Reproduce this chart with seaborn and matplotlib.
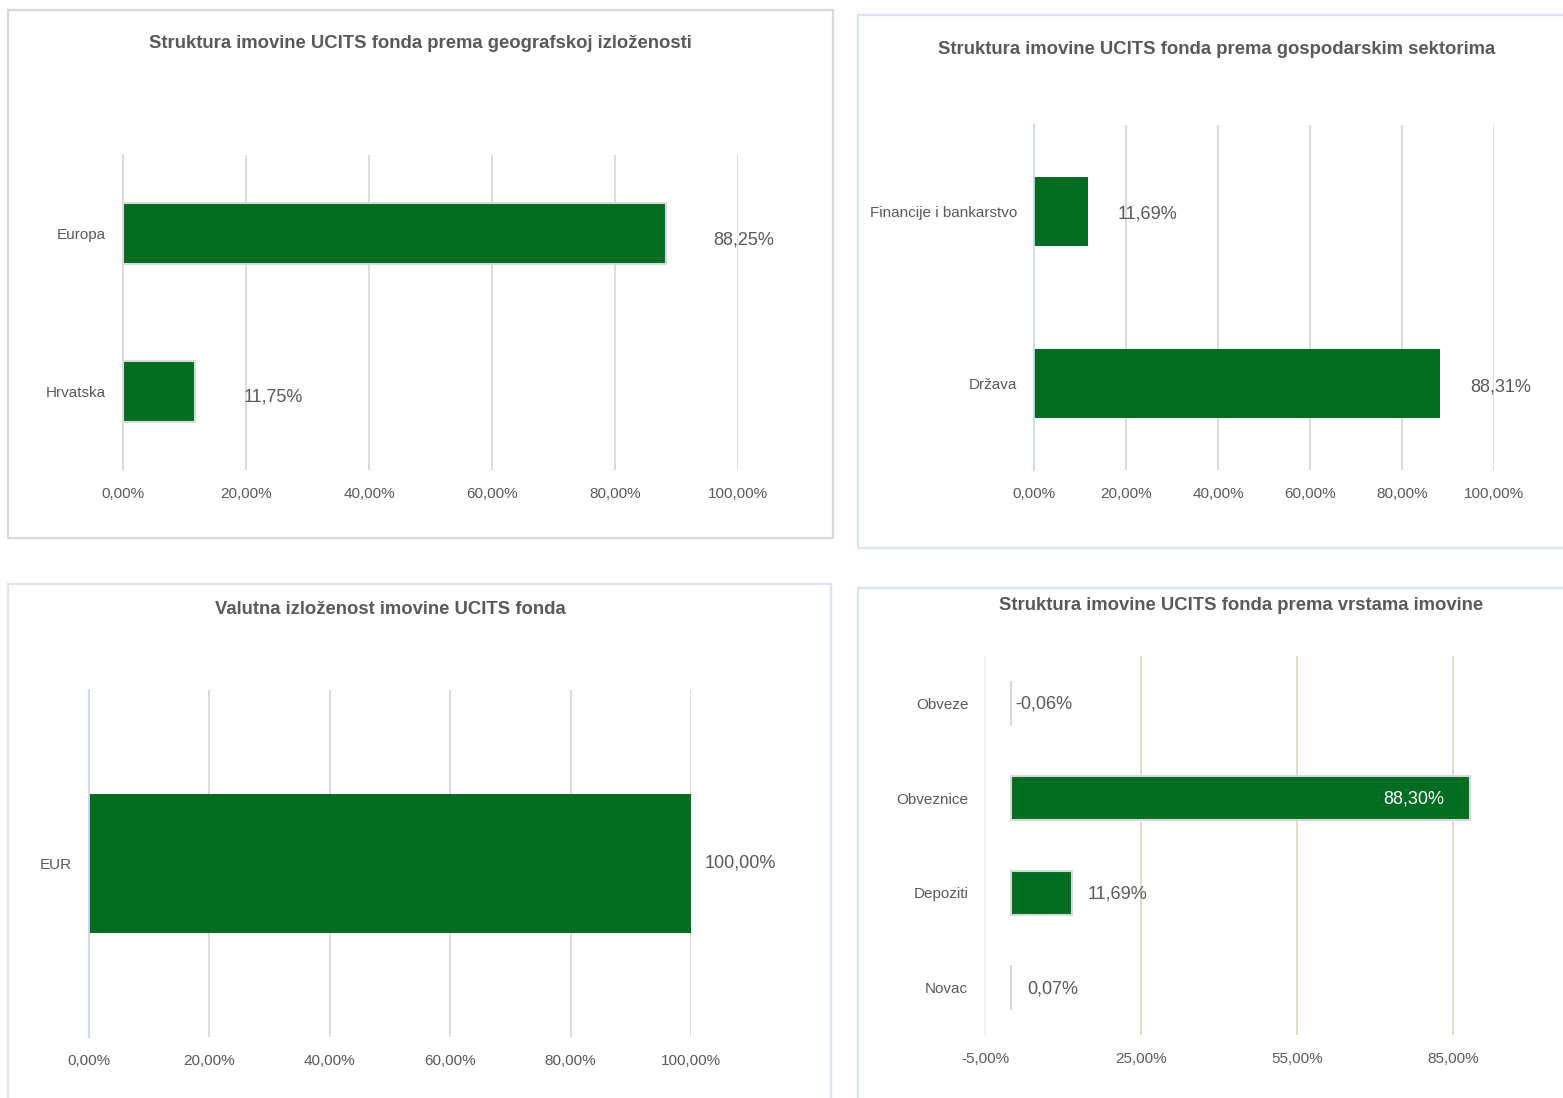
import matplotlib
matplotlib.use("Agg")
import matplotlib.pyplot as plt
import matplotlib.patches as patches
from matplotlib.ticker import FuncFormatter
import seaborn as sns

W, H = 1563, 1098

geo_labels = ["Europa", "Hrvatska"]
geo_values = [88.25, 11.75]

sector_labels = ["Financije i bankarstvo", "Država"]
sector_values = [11.69, 88.31]

currency_labels = ["EUR"]
currency_values = [100.00]

asset_labels = ["Obveze", "Obveznice", "Depoziti", "Novac"]
asset_values = [-0.06, 88.30, 11.69, 0.07]

GREEN = "#006D23"
TEXT = "#595959"

sns.set_theme(style="white")
plt.rcParams["font.family"] = ["Liberation Sans Narrow", "Liberation Sans", "DejaVu Sans"]

fig = plt.figure(figsize=(W / 100, H / 100), dpi=100)


def px_axes(l, t, r, b):
    return fig.add_axes([l / W, 1 - b / H, (r - l) / W, (b - t) / H])


def frame(x0, y0, x1, y1, color):
    fig.patches.append(patches.Rectangle((x0 / W, 1 - y1 / H), (x1 - x0) / W, (y1 - y0) / H,
                                         transform=fig.transFigure, fill=False,
                                         edgecolor=color, lw=1.6))


def pct(v, _=None):
    return f"{v:.2f}%".replace(".", ",")


def panel(ax, labels, values, ticks, xlim, width, edge, grid_color, zero_color,
          label_off, dy=-3, inside=None, ypad=12, xpad=12):
    sns.barplot(x=values, y=labels, orient="h", color=GREEN, width=width, saturation=1,
                edgecolor=edge, linewidth=1.5 if edge != "none" else 0, ax=ax)
    ax.set_xlim(*xlim)
    ax.set_xticks(ticks)
    ax.xaxis.set_major_formatter(FuncFormatter(pct))
    ax.grid(axis="x", color=grid_color, lw=1.3)
    ax.set_axisbelow(True)
    for s in ["top", "right", "bottom"]:
        ax.spines[s].set_visible(False)
    ax.spines["left"].set_color(zero_color)
    ax.spines["left"].set_linewidth(1.3)
    ax.tick_params(axis="both", length=0, colors=TEXT, labelsize=11)
    ax.tick_params(axis="y", pad=ypad)
    ax.tick_params(axis="x", pad=xpad)
    ax.set_xlabel("")
    ax.set_ylabel("")
    for i, v in enumerate(values):
        if inside is not None and i == inside:
            ax.annotate(pct(v), (v, i), xytext=(-26, dy), textcoords="offset pixels",
                        ha="right", va="center", color="white", fontsize=13)
        else:
            ax.annotate(pct(v), (max(v, 0), i), xytext=(label_off if v > 0 else 4, dy),
                        textcoords="offset pixels", ha="left", va="center",
                        color=TEXT, fontsize=13, annotation_clip=False)


# frames
frame(8, 10, 833, 538, "#d9d9d9")
frame(858, 15, 1575, 548, "#dae3f3")
frame(8, 584, 831, 1110, "#dae3f3")
frame(858, 588, 1575, 1110, "#dae3f3")

# titles
title_kw = dict(ha="center", va="center", fontsize=13.3, fontweight="bold", color=TEXT)
fig.text(420 / W, 1 - 44 / H, "Struktura imovine UCITS fonda prema geografskoj izloženosti", **title_kw)
fig.text(1217 / W, 1 - 49 / H, "Struktura imovine UCITS fonda prema gospodarskim sektorima", **title_kw)
fig.text(390 / W, 1 - 609 / H, "Valutna izloženost imovine UCITS fonda", **title_kw)
fig.text(1241 / W, 1 - 606 / H, "Struktura imovine UCITS fonda prema vrstama imovine", **title_kw)

ax1 = px_axes(123, 155, 738, 470)
panel(ax1, geo_labels, geo_values, [0, 20, 40, 60, 80, 100], (0, 100), 0.39,
      "#d9d9d9", "#d9d9d9", "#d9d9d9", 48, dy=-6)

ax2 = px_axes(1034, 125, 1494, 470)
panel(ax2, sector_labels, sector_values, [0, 20, 40, 60, 80, 100], (0, 100), 0.4,
      "none", "#d9d9d9", "#c9dbf0", 30, dy=-3)

ax3 = px_axes(89, 690, 691, 1037)
panel(ax3, currency_labels, currency_values, [0, 20, 40, 60, 80, 100], (0, 100), 0.4,
      "none", "#d9d9d9", "#c9dbf0", 14, dy=0)

ax4 = px_axes(985, 656, 1531, 1035)
panel(ax4, asset_labels, asset_values, [-5, 25, 55, 85], (-5, 100), 0.47,
      "#d9d9d9", "#ddd9c3", "#f2f2f2", 16, dy=-1, inside=1)

fig.savefig("out.png", dpi=100, facecolor="white")
